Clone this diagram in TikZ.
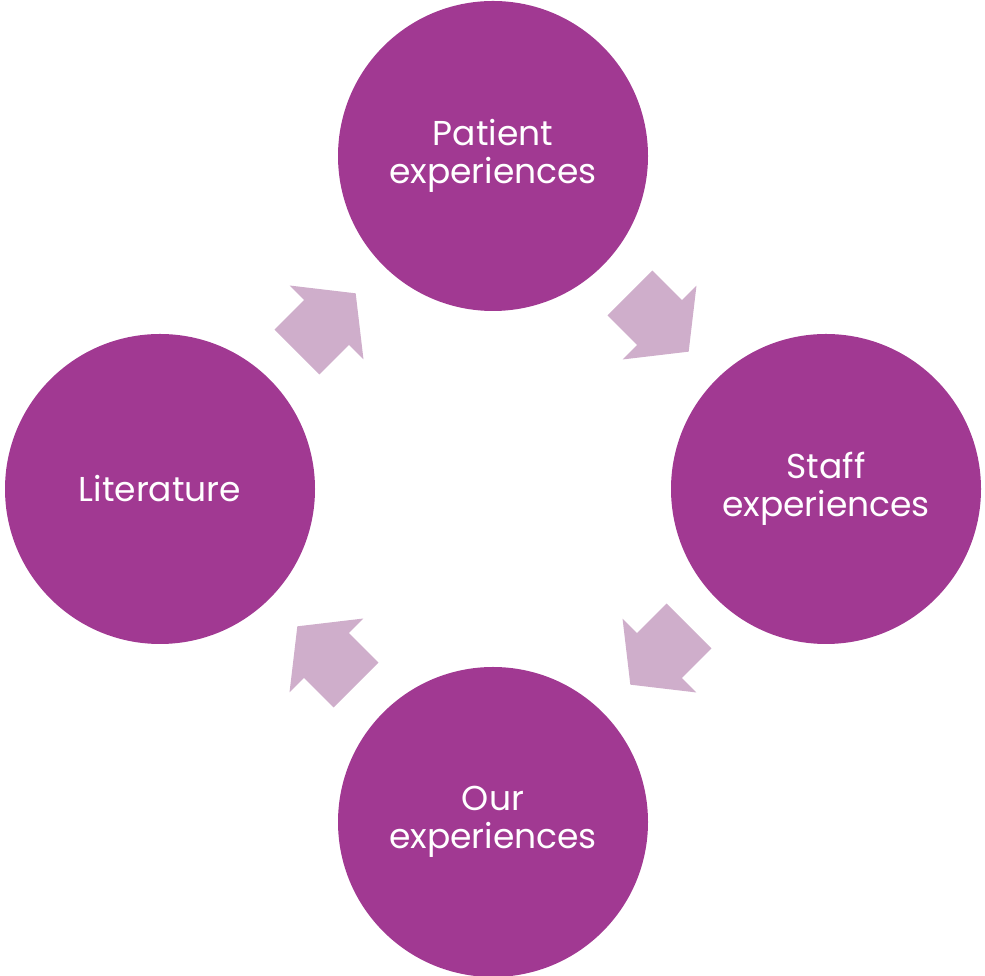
\documentclass[tikz,border=0pt]{standalone}
\usepackage{fontspec}
\setmainfont{Poppins}
\usetikzlibrary{positioning,calc,shapes.arrows}

\definecolor{phasepurple}{RGB}{161,57,146}
\definecolor{arrowlilac}{RGB}{207,174,203}

\begin{document}
\begin{tikzpicture}[x=1pt,y=1pt,node distance=333pt,on grid,
        phase/.style={circle,fill=phasepurple,text=white,minimum size=310pt,
          inner sep=0pt,align=center,font=\fontsize{34.5}{38}\selectfont},
        flow/.style={single arrow,fill=arrowlilac,inner sep=0pt,
          text height=31.5pt,text depth=31.5pt,text width=0pt,
          single arrow head extend=20.5pt,single arrow tip angle=103.5,
          minimum height=83pt,anchor=tip}]
  \useasboundingbox (0,0) rectangle (985,976);
  \node[phase] (top) at (493,820) {Patient\\experiences};
  \node[phase] (right) [below right=333pt and 333pt of top] {Staff\\experiences};
  \node[phase] (bottom) [below left=333pt and 333pt of right] {Our\\experiences};
  \node[phase] (left) [above left=333pt and 333pt of bottom] {Literature};

  \node[flow,rotate=-45] (a1) at ($(top)!0.5!(right)+(-45:41.5)$) {};
  \node[flow,rotate=-135] (a2) at ($(right)!0.5!(bottom)+(-135:41.5)$) {};
  \node[flow,rotate=135] (a3) at ($(bottom)!0.5!(left)+(135:41.5)$) {};
  \node[flow,rotate=45] (a4) at ($(left)!0.5!(top)+(45:41.5)$) {};
\end{tikzpicture}
\end{document}
